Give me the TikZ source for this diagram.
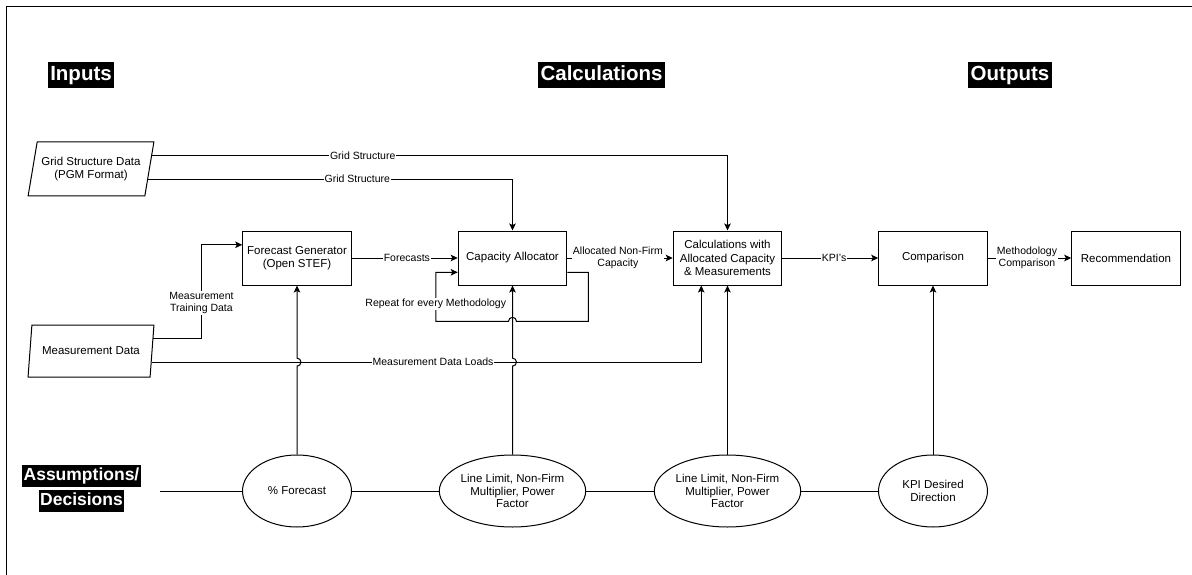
\documentclass[tikz,border=0pt]{standalone}
\usepackage{fontspec}
\setmainfont{Liberation Sans}
\usetikzlibrary{shapes.geometric,arrows.meta,calc}
\begin{document}
\begin{tikzpicture}[x=1pt,y=-1pt,
  box/.style={draw, line width=1pt, inner sep=2pt, minimum width=108.5pt, minimum height=54pt,
    align=center, font=\fontsize{11.5}{13.5}\selectfont},
  oval/.style={draw, ellipse, line width=1pt, inner sep=0pt, minimum width=109pt, minimum height=72pt,
    align=center, font=\fontsize{11.5}{12.5}\selectfont},
  datain/.style={draw, trapezium, trapezium left angle=72, trapezium right angle=108,
    trapezium stretches=true, line width=1pt, inner sep=1pt, minimum width=126pt, minimum height=54pt,
    align=center, font=\fontsize{11.5}{13.5}\selectfont},
  heading/.style={fill=black, text=white, inner xsep=2.5pt, inner ysep=3.25pt,
    text height=15pt, text depth=4.5pt, font=\bfseries\fontsize{20.5}{24}\selectfont},
  subheading/.style={fill=black, text=white, inner xsep=1.5pt, inner ysep=2.5pt,
    text height=13pt, text depth=4pt, font=\bfseries\fontsize{17.5}{20}\selectfont},
  lbl/.style={fill=white, inner sep=1pt, align=center, font=\fontsize{10.5}{12}\selectfont},
  wire/.style={line width=1pt},
  arr/.style={wire, -{Stealth[length=7pt,width=6.5pt,inset=1.5pt]}}
]
\useasboundingbox (0,0) rectangle (1192,575);
% page frame
\draw[line width=1pt] (6,575) -- (6,7) -- (1192,7);

% column headings
\node[heading] (hin)   at (81,75)    {Inputs};
\node[heading] (hcalc) at (601.5,75) {Calculations};
\node[heading] (hout)  at (1010,75)  {Outputs};
\node[subheading] (as1) at (81.5,476) {Assumptions/};
\node[subheading] (as2) at (81.5,501) {Decisions};

% input data
\node[datain] (gsd) at (91,169) {Grid Structure Data\\(PGM Format)};
\node[datain, minimum height=52pt] (md) at (91,351) {Measurement Data};

% process chain
\node[box] (fg)   at (297,258)    {Forecast Generator\\(Open STEF)};
\node[box] (ca)   at (512.5,258)  {Capacity Allocator};
\node[box] (calc) at (727.5,258)  {Calculations with\\Allocated Capacity\\\& Measurements};
\node[box] (comp) at (933,258)    {Comparison};
\node[box] (rec)  at (1126,258)   {Recommendation};

% assumptions and decisions
\node[oval] (e1) at (297,491)   {\% Forecast};
\node[oval] (e2) at (512.5,491) {Line Limit, Non-Firm\\Multiplier, Power\\Factor};
\node[oval] (e3) at (727.5,491) {Line Limit, Non-Firm\\Multiplier, Power\\Factor};
\node[oval] (e4) at (933,491)   {KPI Desired\\Direction};

\coordinate (chain) at (160,491);
\draw[wire] (chain) -- (e1.west);
\draw[wire] (e1.east) -- (e2.west);
\draw[wire] (e2.east) -- (e3.west);
\draw[wire] (e3.east) -- (e4.west);

% connection points on the data shapes and boxes
\coordinate (gs1) at ($(gsd.top right corner)!0.26!(gsd.bottom right corner)$);
\coordinate (gs2) at ($(gsd.top right corner)!0.685!(gsd.bottom right corner)$);
\coordinate (mdT) at ($(md.top right corner)!0.27!(md.bottom right corner)$);
\coordinate (mdB) at ($(md.top right corner)!0.71!(md.bottom right corner)$);
\coordinate (fgIn) at ($(fg.north west)!0.26!(fg.south west)$);
\coordinate (calcIn) at ($(calc.south west)!0.26!(calc.south east)$);
\coordinate (caOut) at ($(ca.north east)!0.76!(ca.south east)$);
\coordinate (caIn) at ($(ca.north west)!0.76!(ca.south west)$);
\coordinate (loopR) at ($(caOut)+(21,49)$);
\coordinate (loopL) at ($(caIn)+(-22,49)$);

% grid structure feeds
\draw[arr] (gs1) -| (calc.north) node[lbl, pos=0.183] {Grid Structure};
\draw[arr] (gs2) -| (ca.north) node[lbl, pos=0.287] {Grid Structure};

% measurement feeds
\draw[arr] (mdT) -- ++(48,0) |- (fgIn) node[lbl, pos=0.19] {Measurement\\Training Data};
\draw[arr] (mdB) -| (calcIn) node[lbl, pos=0.256] {Measurement Data Loads};

% main flow
\draw[arr] (fg.east) -- (ca.west) node[lbl, pos=0.52] {Forecasts};
\draw[arr] (ca.east) -- (calc.west) node[lbl, pos=0.48] {Allocated Non-Firm\\Capacity};
\draw[arr] (calc.east) -- (comp.west) node[lbl, pos=0.54] {KPI's};
\draw[arr] (comp.east) -- (rec.west) node[lbl, pos=0.47] {Methodology\\Comparison};

% methodology loop, hopping over the assumption feed
\draw[arr] (caOut) -| (loopR) -- ($(e2.north |- loopR)+(4,0)$)
  arc[start angle=0, end angle=-180, radius=4] -- (loopL) |- (caIn)
  node[lbl, pos=0.18] {Repeat for every Methodology};

% assumption feeds, hopping over the measurement line
\draw[arr] (e1.north) -- ($(e1.north |- mdB)+(0,4)$)
  arc[start angle=90, end angle=-90, radius=4] -- (fg.south);
\draw[arr] (e2.north) -- ($(e2.north |- mdB)+(0,4)$)
  arc[start angle=90, end angle=-90, radius=4] -- (ca.south);
\draw[arr] (e3.north) -- (calc.south);
\draw[arr] (e4.north) -- (comp.south);
\end{tikzpicture}
\end{document}
